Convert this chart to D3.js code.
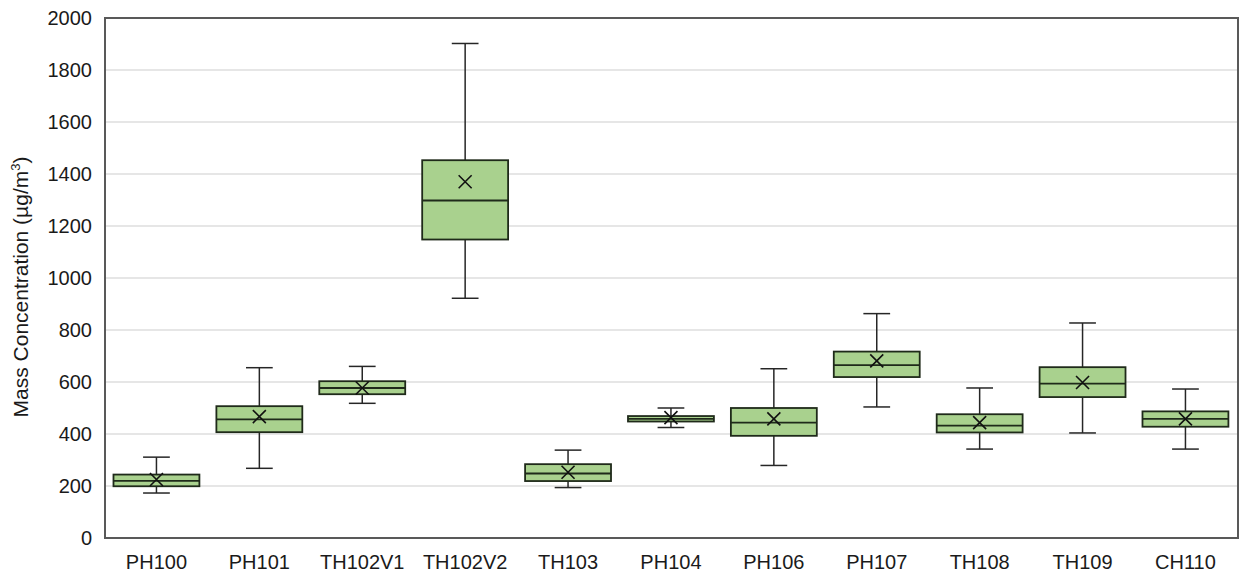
<!DOCTYPE html>
<html>
<head>
<meta charset="utf-8">
<script src="https://cdn.jsdelivr.net/npm/d3@7"></script>
<style>
  html, body { margin: 0; padding: 0; background: #fff; }
  svg { display: block; font-family: "Liberation Sans", Arial, sans-serif; }
</style>
</head>
<body>
<svg id="chart" width="1239" height="573"></svg>
<script>
// Sampling sites
const sites = ["PH100", "PH101", "TH102V1", "TH102V2", "TH103", "PH104", "PH106", "PH107", "TH108", "TH109", "CH110"];
// Five-number summaries and means (µg/m³)
const whiskerLow  = [173, 268, 518, 922, 194, 425, 279, 504, 342, 404, 342];
const quartile1   = [199, 407, 553, 1148, 219, 448, 393, 619, 406, 542, 428];
const medians     = [220, 456, 577, 1298, 248, 458, 444, 665, 432, 594, 458];
const quartile3   = [244, 507, 603, 1453, 284, 469, 500, 717, 476, 657, 487];
const whiskerHigh = [311, 655, 660, 1902, 338, 500, 651, 863, 577, 827, 573];
const means       = [225, 467, 577, 1370, 253, 463, 458, 681, 444, 598, 458];
const yTicks = [0, 200, 400, 600, 800, 1000, 1200, 1400, 1600, 1800, 2000];

const svg = d3.select("#chart");
const plotLeft = 105, plotRight = 1238, plotTop = 18, plotBottom = 538;

const x = d3.scaleBand().domain(sites).range([plotLeft, plotLeft + 11 * 102.9]).paddingInner(0).paddingOuter(0);
const y = d3.scaleLinear().domain([0, 2000]).range([plotBottom, plotTop]);

const boxW = x.bandwidth() * 0.835;
const capW = x.bandwidth() * 0.26;
const cx = d => x(d) + x.bandwidth() / 2;

// Horizontal gridlines
svg.append("g")
  .selectAll("line")
  .data(yTicks.filter(t => t > 0 && t < 2000))
  .join("line")
  .attr("x1", plotLeft).attr("x2", plotRight)
  .attr("y1", d => y(d)).attr("y2", d => y(d))
  .attr("stroke", "#dedede").attr("stroke-width", 1.5);

// Y axis tick labels
const yAxis = svg.append("g")
  .attr("transform", `translate(${plotLeft},0)`)
  .call(d3.axisLeft(y).tickValues(yTicks).tickSize(0).tickPadding(13).tickFormat(d3.format("d")));
yAxis.select(".domain").remove();
yAxis.selectAll("text")
  .attr("font-size", 20).attr("fill", "#1a1a1a")
  .attr("font-family", "'Liberation Sans', Arial, sans-serif");

// X axis category labels
const xAxis = svg.append("g")
  .attr("transform", `translate(0,${plotBottom})`)
  .call(d3.axisBottom(x).tickSize(0).tickPadding(17));
xAxis.select(".domain").remove();
xAxis.selectAll("text")
  .attr("font-size", 20).attr("fill", "#1a1a1a")
  .attr("font-family", "'Liberation Sans', Arial, sans-serif");

// Y axis title
svg.append("text")
  .attr("transform", `translate(28,287) rotate(-90)`)
  .attr("text-anchor", "middle")
  .attr("font-size", 21)
  .attr("fill", "#1a1a1a")
  .html('Mass Concentration (µg/m<tspan dy="-8" font-size="13">3</tspan><tspan dy="8">)</tspan>');

// Box plots
const rows = sites.map((s, i) => ({
  s, lo: whiskerLow[i], q1: quartile1[i], med: medians[i], q3: quartile3[i], hi: whiskerHigh[i], mean: means[i]
}));

const g = svg.append("g");
const box = g.selectAll("g.box").data(rows).join("g").attr("class", "box");

const lineColor = "#262626";

// Whisker stems
box.append("line")
  .attr("x1", d => cx(d.s)).attr("x2", d => cx(d.s))
  .attr("y1", d => y(d.hi)).attr("y2", d => y(d.q3))
  .attr("stroke", lineColor).attr("stroke-width", 1.5);
box.append("line")
  .attr("x1", d => cx(d.s)).attr("x2", d => cx(d.s))
  .attr("y1", d => y(d.q1)).attr("y2", d => y(d.lo))
  .attr("stroke", lineColor).attr("stroke-width", 1.5);
// Whisker caps
box.append("line")
  .attr("x1", d => cx(d.s) - capW / 2).attr("x2", d => cx(d.s) + capW / 2)
  .attr("y1", d => y(d.hi)).attr("y2", d => y(d.hi))
  .attr("stroke", lineColor).attr("stroke-width", 1.5);
box.append("line")
  .attr("x1", d => cx(d.s) - capW / 2).attr("x2", d => cx(d.s) + capW / 2)
  .attr("y1", d => y(d.lo)).attr("y2", d => y(d.lo))
  .attr("stroke", lineColor).attr("stroke-width", 1.5);
// Interquartile box
box.append("rect")
  .attr("x", d => cx(d.s) - boxW / 2)
  .attr("width", boxW)
  .attr("y", d => y(d.q3))
  .attr("height", d => y(d.q1) - y(d.q3))
  .attr("fill", "#a9d18e")
  .attr("stroke", "#1f2a1a").attr("stroke-width", 1.8);
// Median line
box.append("line")
  .attr("x1", d => cx(d.s) - boxW / 2).attr("x2", d => cx(d.s) + boxW / 2)
  .attr("y1", d => y(d.med)).attr("y2", d => y(d.med))
  .attr("stroke", "#1f2a1a").attr("stroke-width", 1.8);
// Mean marker (X)
const m = 6.5;
box.append("path")
  .attr("d", d => {
    const px = cx(d.s), py = y(d.mean);
    return `M${px - m},${py - m}L${px + m},${py + m}M${px - m},${py + m}L${px + m},${py - m}`;
  })
  .attr("stroke", "#111").attr("stroke-width", 1.6).attr("fill", "none");

// Plot area frame
svg.append("rect")
  .attr("x", plotLeft).attr("y", plotTop)
  .attr("width", plotRight - plotLeft).attr("height", plotBottom - plotTop)
  .attr("fill", "none").attr("stroke", "#595959").attr("stroke-width", 2);
</script>
</body>
</html>
